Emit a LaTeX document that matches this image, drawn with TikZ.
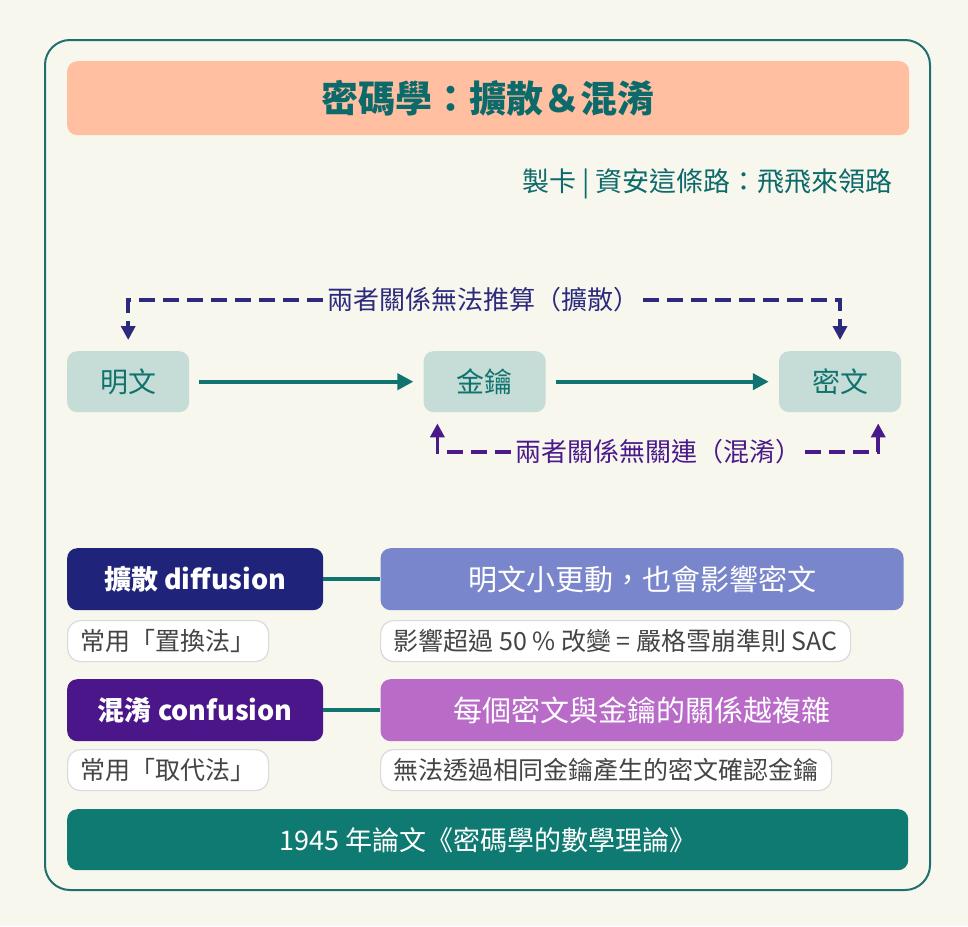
\documentclass[tikz,border=0pt]{standalone}
\usepackage{fontspec}
\setmainfont{Noto Sans CJK TC}
\usetikzlibrary{arrows.meta,calc,positioning}

\definecolor{paper}{HTML}{F8F7EE}
\definecolor{frame}{HTML}{1F6F6F}
\definecolor{salmon}{HTML}{FFBFA0}
\definecolor{tealtxt}{HTML}{0D6A6A}
\definecolor{nodefill}{HTML}{C5DDD6}
\definecolor{tealline}{HTML}{11736F}
\definecolor{navy}{HTML}{2B2A7C}
\definecolor{violet}{HTML}{4B1A8A}
\definecolor{difbox}{HTML}{1F237A}
\definecolor{difdesc}{HTML}{7A86CB}
\definecolor{conbox}{HTML}{4A168A}
\definecolor{condesc}{HTML}{B86CC8}
\definecolor{greyline}{HTML}{DADADA}
\definecolor{greytxt}{HTML}{444444}
\definecolor{footfill}{HTML}{0E7A72}

\newcommand{\fs}[1]{\fontsize{#1}{#1}\selectfont}

\tikzset{
  box/.style={rounded corners=10pt, inner sep=0pt, anchor=north west},
  flowbox/.style={box, fill=nodefill, text=tealline, minimum width=122pt,
                  minimum height=61pt, font=\fs{28}},
  headbox/.style={box, text=white, minimum width=256pt, minimum height=62pt,
                  font=\fs{27}\bfseries},
  descbox/.style={box, text=white, minimum width=523pt, minimum height=62pt,
                  font=\fs{29}},
  notebox/.style={box, rounded corners=13pt, fill=white, draw=greyline, line width=1.2pt,
                  text=greytxt, minimum height=41pt, inner xsep=13pt, font=\fs{25}},
  flowarrow/.style={-{Triangle[length=16pt,width=16pt]}, line width=4pt, draw=tealline,
                    shorten >=10pt, shorten <=10pt},
  relarrow/.style={-{Triangle[length=14pt,width=14pt]}, line width=3.6pt,
                   dash pattern=on 16pt off 8pt, shorten >=11pt},
  rellabel/.style={fill=paper, inner xsep=4pt, inner ysep=2pt, font=\fs{26}}
}

\begin{document}
\begin{tikzpicture}[x=1pt, y=-1pt]

\useasboundingbox[fill=paper] (0,0) rectangle (968,926);
\draw[frame, line width=2pt, rounded corners=25pt] (45,40) rectangle (930,890);

% title
\node[box, fill=salmon, minimum width=842pt, minimum height=74pt] (title) at (67,61) {};
\node[text=tealtxt, font=\fs{37}\bfseries] at (title.center) {密碼學：擴散＆混淆};
\node[anchor=east, text=tealtxt, font=\fs{27}, inner sep=0pt] (maker) at (893,184)
  {製卡 | 資安這條路：飛飛來領路};

% flow
\node[flowbox] (ming) at (67,351) {明文};
\node[flowbox, right=234pt of ming.north east, anchor=north west] (key) {金鑰};
\node[flowbox, right=233pt of key.north east, anchor=north west] (mi) {密文};

\draw[flowarrow] (ming) -- (key);
\draw[flowarrow] (key) -- (mi);

\node[rellabel, text=navy] (difrel) at (483,300) {兩者關係無法推算（擴散）};
\draw[relarrow, navy] (difrel.west) -| (ming.north);
\draw[relarrow, navy] (difrel.east) -| (mi.north);

\node[rellabel, text=violet] (conrel) at (658,452) {兩者關係無關連（混淆）};
\draw[relarrow, violet] (conrel.west) -| ([xshift=14pt]key.south west);
\draw[relarrow, violet] (conrel.east) -| ([xshift=-23pt]mi.south east);

% diffusion row
\node[headbox, fill=difbox] (dif) at (67,548) {擴散 diffusion};
\node[descbox, fill=difdesc, right=57pt of dif.north east, anchor=north west] (difd)
  {明文小更動，也會影響密文};
\draw[tealline, line width=4pt] (dif) -- (difd);
\node[notebox] (difn) at (67,620) {常用「置換法」};
\node[notebox] (difs) at (380,620) {影響超過 50 \% 改變 = 嚴格雪崩準則 SAC};

% confusion row
\node[headbox, fill=conbox] (con) at (67,679) {混淆 confusion};
\node[descbox, fill=condesc, right=57pt of con.north east, anchor=north west] (cond)
  {每個密文與金鑰的關係越複雜};
\draw[tealline, line width=4pt] (con) -- (cond);
\node[notebox] (conn) at (67,749) {常用「取代法」};
\node[notebox] (cons) at (380,749) {無法透過相同金鑰產生的密文確認金鑰};

% footer
\node[box, fill=footfill, text=white, minimum width=841pt, minimum height=61pt,
      font=\fs{27}] (foot) at (67,809) {1945 年論文《密碼學的數學理論》};

\end{tikzpicture}
\end{document}
